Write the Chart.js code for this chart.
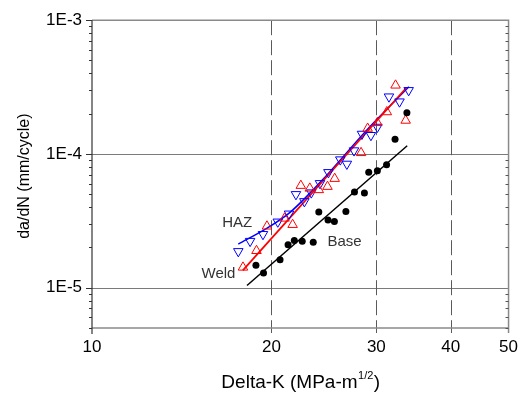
<!DOCTYPE html>
<html><head><meta charset="utf-8">
<script src="https://cdn.jsdelivr.net/npm/chart.js@4/dist/chart.umd.min.js"></script>
<style>html,body{margin:0;padding:0;background:#fff}#wrap{width:527px;height:394px}</style>
</head><body><div id="wrap"><canvas id="c" width="527" height="394"></canvas></div>
<script>
// ---- data ----
const xTickValues = [10, 20, 30, 40, 50];
const yTickValues = [1e-5, 1e-4, 1e-3];
const dashedXValues = [20, 30, 40];

const baseK    = [18.84, 19.40, 20.68, 21.33, 21.85, 22.53, 23.51, 24.02, 24.89, 25.51, 26.67, 27.57, 28.65, 29.13, 30.12, 31.21, 32.25, 33.76];
const baseRate = [1.47e-5, 1.29e-5, 1.62e-5, 2.10e-5, 2.25e-5, 2.23e-5, 2.19e-5, 3.69e-5, 3.21e-5, 3.13e-5, 3.71e-5, 5.20e-5, 5.10e-5, 7.29e-5, 7.50e-5, 8.32e-5, 1.29e-4, 2.03e-4];

const weldK    = [17.92, 18.88, 19.66, 21.04, 21.71, 22.41, 23.20, 24.02, 24.84, 25.54, 28.28, 29.01, 30.12, 31.24, 32.31, 33.60];
const weldRate = [1.42e-5, 1.89e-5, 2.88e-5, 3.30e-5, 2.96e-5, 5.80e-5, 5.53e-5, 5.39e-5, 5.70e-5, 6.54e-5, 1.02e-4, 1.55e-4, 1.71e-4, 2.06e-4, 3.26e-4, 1.78e-4];

const hazK    = [17.60, 18.42, 19.36, 20.50, 21.41, 21.99, 22.72, 23.33, 24.13, 24.93, 26.10, 26.77, 27.52, 28.38, 29.38, 30.12, 31.50, 32.81, 33.99];
const hazRate = [1.87e-5, 2.23e-5, 2.51e-5, 3.11e-5, 3.57e-5, 4.99e-5, 4.42e-5, 5.14e-5, 6.03e-5, 7.29e-5, 9.07e-5, 8.42e-5, 1.06e-4, 1.41e-4, 1.38e-4, 1.59e-4, 2.68e-4, 2.46e-4, 2.99e-4];

const baseFitK    = [18.2, 33.8];
const baseFitRate = [1.04e-5, 1.153e-4];
const weldFitK    = [17.91, 33.72];
const weldFitRate = [1.346e-5, 3.14e-4];
const hazFitK     = [17.60, 19.67, 21.57, 24.30, 29.10, 34.02];
const hazFitRate  = [2.12e-5, 2.79e-5, 3.71e-5, 6.32e-5, 1.557e-4, 3.18e-4];

const seriesLabels = ['Base', 'Weld', 'HAZ'];
const labelK    = [26.54, 16.30, 17.52];
const labelRate = [2.197e-5, 1.278e-5, 3.07e-5];

const xTitle = 'Delta-K (MPa-m';
const xTitleSup = '1/2';
const yTitle = 'da/dN (mm/cycle)';

// ---- helpers ----
const pts = (xs, ys) => xs.map((x, i) => ({x: x, y: ys[i]}));
const FONT = "'Liberation Sans', Arial, sans-serif";

const decorPlugin = {
  id: 'decor',
  beforeDatasetsDraw(chart) {
    const {ctx, chartArea: a, scales: {x, y}} = chart;
    ctx.save();
    ctx.strokeStyle = '#7a7a7a'; ctx.lineWidth = 1;
    yTickValues.forEach(v => {
      const py = Math.round(y.getPixelForValue(v)) + 0.5;
      if (py > a.top + 2 && py < a.bottom - 2) {
        ctx.beginPath(); ctx.moveTo(a.left, py); ctx.lineTo(a.right, py); ctx.stroke();
      }
    });
    ctx.strokeStyle = '#5a5a5a'; ctx.setLineDash([15, 5]);
    dashedXValues.forEach(v => {
      const px = Math.round(x.getPixelForValue(v)) + 0.5;
      ctx.beginPath(); ctx.moveTo(px, a.top); ctx.lineTo(px, a.bottom + 5); ctx.stroke();
    });
    ctx.setLineDash([]);
    ctx.strokeStyle = '#8a8a8a'; ctx.lineWidth = 1.5;
    ctx.beginPath();
    ctx.moveTo(a.left, a.top); ctx.lineTo(a.right, a.top); ctx.lineTo(a.right, a.bottom + 5);
    ctx.moveTo(a.left, a.bottom); ctx.lineTo(a.right, a.bottom);
    ctx.stroke();
    ctx.strokeStyle = '#333'; ctx.lineWidth = 1.2;
    ctx.beginPath(); ctx.moveTo(a.left, a.top); ctx.lineTo(a.left, a.bottom + 6); ctx.stroke();
    ctx.lineWidth = 1;
    for (let k = -6; k <= -3; k++) {
      for (let m = 1; m <= 9; m++) {
        const v = m * Math.pow(10, k);
        if (v < y.min * 0.999 || v > y.max * 1.001) continue;
        const py = Math.round(y.getPixelForValue(v)) + 0.5;
        ctx.strokeStyle = '#333';
        ctx.beginPath(); ctx.moveTo(a.left - (m === 1 ? 6 : 3), py); ctx.lineTo(a.left, py); ctx.stroke();
        ctx.strokeStyle = '#555';
        ctx.beginPath(); ctx.moveTo(a.right, py); ctx.lineTo(a.right - (m === 1 ? 0 : 3), py); ctx.stroke();
      }
    }
    ctx.restore();
  },
  afterDraw(chart) {
    const {ctx, chartArea: a, scales: {x, y}} = chart;
    ctx.save();
    ctx.fillStyle = '#333';
    ctx.font = '15px ' + FONT;
    ctx.textAlign = 'center'; ctx.textBaseline = 'middle';
    seriesLabels.forEach((t, i) => {
      ctx.fillText(t, x.getPixelForValue(labelK[i]), y.getPixelForValue(labelRate[i]));
    });
    ctx.fillStyle = '#000';
    ctx.textAlign = 'left'; ctx.textBaseline = 'alphabetic';
    const mainFont = '19px ' + FONT, supFont = '11px ' + FONT;
    ctx.font = mainFont; const w1 = ctx.measureText(xTitle).width; const w3 = ctx.measureText(')').width;
    ctx.font = supFont; const w2 = ctx.measureText(xTitleSup).width;
    const total = w1 + w2 + 1 + w3;
    const cx = (a.left + a.right) / 2 + 0.5;
    const sx = cx - total / 2;
    const by = 388;
    ctx.font = mainFont; ctx.fillText(xTitle, sx, by);
    ctx.font = supFont; ctx.fillText(xTitleSup, sx + w1 + 0.5, by - 9);
    ctx.font = mainFont; ctx.fillText(')', sx + w1 + w2 + 1, by);
    ctx.translate(25, (a.top + a.bottom) / 2 + 2);
    ctx.rotate(-Math.PI / 2);
    ctx.font = '16px ' + FONT;
    ctx.textAlign = 'center'; ctx.textBaseline = 'middle';
    ctx.fillText(yTitle, 0, 0);
    ctx.restore();
  }
};

new Chart(document.getElementById('c'), {
  type: 'scatter',
  data: {
    datasets: [
      {label: 'Base', data: pts(baseK, baseRate), pointStyle: 'circle', pointRadius: 3.5,
       backgroundColor: '#000', borderColor: '#000', borderWidth: 0},
      {label: 'Weld', data: pts(weldK, weldRate), pointStyle: 'triangle', pointRadius: 5.5,
       backgroundColor: 'rgba(0,0,0,0)', borderColor: '#ff0000', borderWidth: 1},
      {label: 'HAZ', data: pts(hazK, hazRate), pointStyle: 'triangle', pointRotation: 180, pointRadius: 5.5,
       backgroundColor: 'rgba(0,0,0,0)', borderColor: '#0000ff', borderWidth: 1},
      {label: 'Base fit', data: pts(baseFitK, baseFitRate), showLine: true, pointRadius: 0,
       borderColor: '#000', borderWidth: 1.5, fill: false},
      {label: 'Weld fit', data: pts(weldFitK, weldFitRate), showLine: true, pointRadius: 0,
       borderColor: '#ff0000', borderWidth: 1.8, fill: false},
      {label: 'HAZ fit', data: pts(hazFitK, hazFitRate), showLine: true, pointRadius: 0,
       borderColor: '#0000ff', borderWidth: 1.5, fill: false, tension: 0.3}
    ]
  },
  options: {
    responsive: false, animation: false, devicePixelRatio: 1,
    layout: {padding: {left: 0, right: 16, top: 19, bottom: 0}},
    plugins: {legend: {display: false}, tooltip: {enabled: false}},
    scales: {
      x: {
        type: 'logarithmic', min: 10, max: 50,
        afterBuildTicks: s => { s.ticks = xTickValues.map(v => ({value: v})); },
        afterFit: s => { s.height = 66; },
        grid: {display: false, drawTicks: false}, border: {display: false},
        ticks: {callback: v => String(v), color: '#000', padding: 9, maxRotation: 0, autoSkip: false,
                font: {family: FONT, size: 17}}
      },
      y: {
        type: 'logarithmic', min: 5e-6, max: 1e-3,
        afterBuildTicks: s => { s.ticks = yTickValues.map(v => ({value: v})); },
        afterFit: s => { s.width = 92; },
        grid: {display: false, drawTicks: false}, border: {display: false},
        ticks: {callback: v => '1E' + Math.round(Math.log10(v)), color: '#000', padding: 10, autoSkip: false,
                font: {family: FONT, size: 17}}
      }
    }
  },
  plugins: [decorPlugin]
});
</script></body></html>
